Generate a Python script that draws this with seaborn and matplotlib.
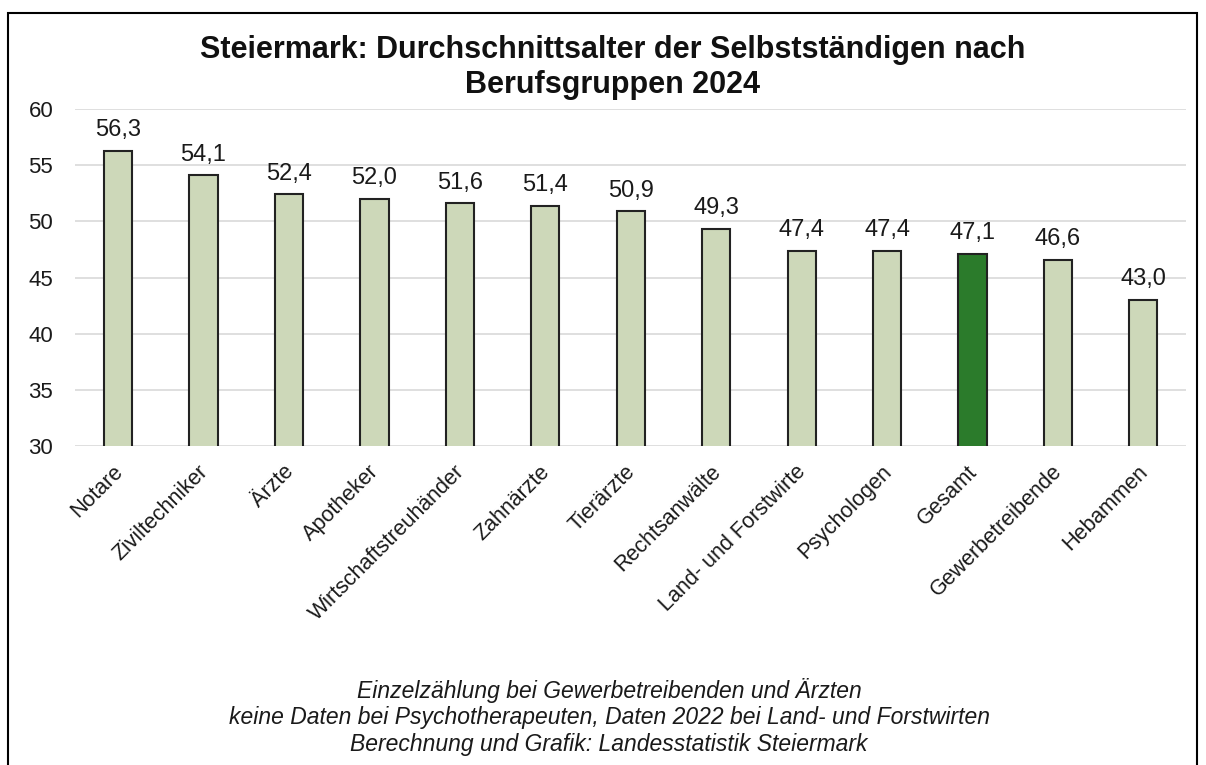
import matplotlib
matplotlib.use("Agg")
import matplotlib.pyplot as plt
import matplotlib.patches as patches
import matplotlib.transforms as mtransforms
import seaborn as sns

# Daten
berufe = ["Notare", "Ziviltechniker", "Ärzte", "Apotheker", "Wirtschaftstreuhänder",
          "Zahnärzte", "Tierärzte", "Rechtsanwälte", "Land- und Forstwirte",
          "Psychologen", "Gesamt", "Gewerbetreibende", "Hebammen"]
alter = [56.3, 54.1, 52.4, 52.0, 51.6, 51.4, 50.9, 49.3, 47.4, 47.4, 47.1, 46.6, 43.0]
y_ticks = [30, 35, 40, 45, 50, 55, 60]

hell = "#CDD8B9"
dunkel = "#2B7B2B"
farben = [dunkel if b == "Gesamt" else hell for b in berufe]

sns.set_theme(style="white")
plt.rcParams["font.family"] = ["Liberation Sans", "DejaVu Sans"]

fig = plt.figure(figsize=(12.06, 7.65), dpi=100)
ax = fig.add_axes([0.0625, 0.417, 0.921, 0.4405])

sns.barplot(x=berufe, y=alter, hue=berufe, palette=farben, legend=False,
            width=0.33, edgecolor="#222222", linewidth=1.5, saturation=1, ax=ax)

ax.set_ylim(30, 60)
ax.set_yticks(y_ticks)
ax.set_yticklabels([str(t) for t in y_ticks], fontsize=16, color="#1a1a1a")
ax.yaxis.grid(True, color="#D9D9D9", linewidth=1.2)
ax.set_axisbelow(True)
ax.tick_params(axis="both", length=0)
ax.tick_params(axis="y", pad=16)
for s in ax.spines.values():
    s.set_visible(False)

ax.set_xticks(range(len(berufe)))
ax.set_xticklabels(berufe, rotation=45, ha="right", rotation_mode="anchor",
                   fontsize=15.5, color="#1a1a1a")
ax.tick_params(axis="x", pad=11)
versatz = mtransforms.ScaledTranslation(-6 / 100, 0, fig.dpi_scale_trans)
for lbl in ax.get_xticklabels():
    lbl.set_transform(lbl.get_transform() + versatz)
ax.set_xlabel("")
ax.set_ylabel("")

for cont in ax.containers:
    ax.bar_label(cont, labels=[f"{v:.1f}".replace(".", ",") for v in cont.datavalues],
                 padding=7, fontsize=17, color="#1a1a1a")

fig.text(0.508, 0.912, "Steiermark: Durchschnittsalter der Selbstständigen nach\nBerufsgruppen 2024",
         ha="center", va="center", fontsize=22, fontweight="bold", linespacing=1.2,
         color="#111111")

fig.text(0.505, 0.063,
         "Einzelzählung bei Gewerbetreibenden und Ärzten\n"
         "keine Daten bei Psychotherapeuten, Daten 2022 bei Land- und Forstwirten\n"
         "Berechnung und Grafik: Landesstatistik Steiermark",
         ha="center", va="center", fontsize=16.5, style="italic", linespacing=1.2,
         color="#1a1a1a")

# Rahmen
fig.patches.append(patches.Rectangle((0.0066, -0.02), 0.986, 1.003, transform=fig.transFigure,
                                     fill=False, edgecolor="black", linewidth=1.5))

fig.savefig("out.png", dpi=100)
